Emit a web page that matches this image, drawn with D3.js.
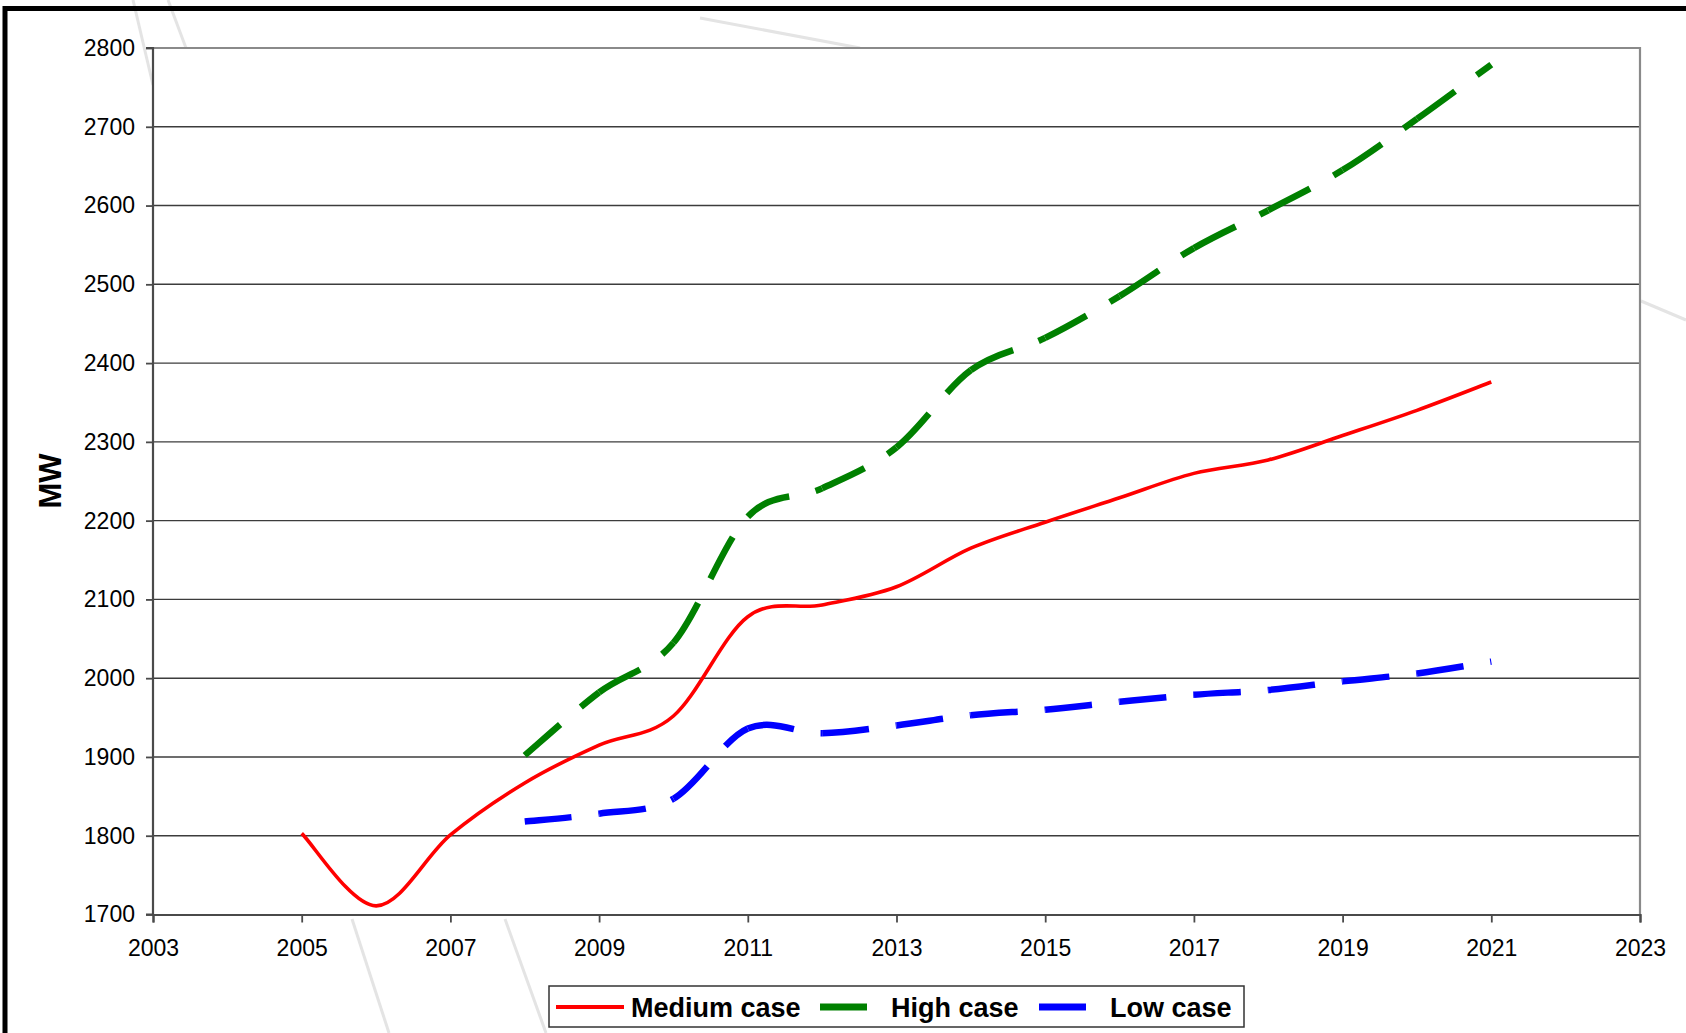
<!DOCTYPE html>
<html>
<head>
<meta charset="utf-8">
<script src="https://cdn.jsdelivr.net/npm/d3@7"></script>
<style>
  html, body { margin: 0; padding: 0; background: #fff; }
  svg { display: block; }
  text { font-family: "Liberation Sans", Arial, sans-serif; fill: #000; }
</style>
</head>
<body>
<svg id="chart" width="1686" height="1033"></svg>
<script>
// ---- data ----
const years = [2005, 2006, 2007, 2008, 2009, 2010, 2011, 2012, 2013, 2014, 2015, 2016, 2017, 2018, 2019, 2020, 2021];
const mediumCase = [1803, 1711, 1801, 1867, 1915, 1952, 2078, 2093, 2116, 2165, 2198, 2229, 2260, 2277, 2308, 2340, 2376];
const highYears = [2008, 2009, 2010, 2011, 2012, 2013, 2014, 2015, 2016, 2017, 2018, 2019, 2020, 2021];
const highCase = [1902, 1982, 2045, 2205, 2241, 2293, 2391, 2432, 2485, 2546, 2594, 2645, 2710, 2779];
const lowYears = [2008, 2009, 2010, 2011, 2012, 2013, 2014, 2015, 2016, 2017, 2018, 2019, 2020, 2021];
const lowCase = [1818, 1828, 1847, 1936, 1930, 1940, 1953, 1960, 1970, 1979, 1985, 1996, 2006, 2021];
const xTicks = [2003, 2005, 2007, 2009, 2011, 2013, 2015, 2017, 2019, 2021, 2023];
const yTicks = [1700, 1800, 1900, 2000, 2100, 2200, 2300, 2400, 2500, 2600, 2700, 2800];
const seriesNames = ["Medium case", "High case", "Low case"];
const yTitle = "MW";

const svg = d3.select("#chart");
const W = 1686, H = 1033;
const plot = { left: 153, right: 1640, top: 48, bottom: 914.5 };

const x = d3.scaleLinear().domain([2003, 2023]).range([plot.left, plot.right]);
const y = d3.scaleLinear().domain([1700, 2800]).range([plot.bottom, plot.top]);

// faint background streaks
const streaks = [
  [[133, 0], [153, 85]], [[168, 0], [186, 48]], [[700, 18], [860, 48]],
  [[352, 919], [389, 1033]], [[505, 919], [546, 1033]], [[1641, 301], [1686, 320]]
];
svg.append("g").selectAll("line").data(streaks).join("line")
  .attr("x1", d => d[0][0]).attr("y1", d => d[0][1])
  .attr("x2", d => d[1][0]).attr("y2", d => d[1][1])
  .attr("stroke", "#e4e4e4").attr("stroke-width", 3);

// outer frame (thick black, cut at right and bottom)
svg.append("path")
  .attr("d", `M5,${H + 10} L5,8.5 L${W + 10},8.5`)
  .attr("fill", "none").attr("stroke", "#000").attr("stroke-width", 5);

// plot area
svg.append("rect")
  .attr("x", plot.left).attr("y", plot.top)
  .attr("width", plot.right - plot.left).attr("height", plot.bottom - plot.top)
  .attr("fill", "#fff");

// gridlines
svg.append("g").selectAll("line").data(yTicks.filter(v => v !== 1700 && v !== 2800)).join("line")
  .attr("x1", plot.left).attr("x2", plot.right)
  .attr("y1", d => y(d)).attr("y2", d => y(d))
  .attr("stroke", "#3c3c3c").attr("stroke-width", 1.4);

// top & right border of plot
svg.append("path")
  .attr("d", `M${plot.left},${plot.top} L${plot.right},${plot.top} L${plot.right},${plot.bottom}`)
  .attr("fill", "none").attr("stroke", "#8a8a8a").attr("stroke-width", 2.2);

// axes
const yAxis = svg.append("g").attr("transform", `translate(${plot.left},0)`)
  .call(d3.axisLeft(y).tickValues(yTicks).tickSize(7).tickPadding(11).tickFormat(d3.format("d")));
const xAxis = svg.append("g").attr("transform", `translate(0,${plot.bottom})`)
  .call(d3.axisBottom(x).tickValues(xTicks).tickSize(8).tickPadding(13).tickFormat(d3.format("d")));
[yAxis, xAxis].forEach(a => {
  a.select(".domain").attr("stroke", "#4a4a4a").attr("stroke-width", 2.2);
  a.selectAll(".tick line").attr("stroke", "#4a4a4a").attr("stroke-width", 1.8);
  a.selectAll(".tick text").style("font-size", "23px").style("font-family", "'Liberation Sans', Arial, sans-serif").attr("fill", "#000");
});
yAxis.select(".domain").attr("d", `M-7,${plot.bottom}H0V${plot.top}H-7`);
xAxis.selectAll(".tick text").attr("dy", "0.9em");

// y title
svg.append("text")
  .attr("transform", `translate(61,481) rotate(-90)`)
  .attr("text-anchor", "middle")
  .style("font-size", "31px").style("font-weight", "bold")
  .text(yTitle);

// smoothed segments (Excel-style: dash pattern restarts at every data point)
function segments(xs, vs) {
  const pts = xs.map((yr, i) => [x(yr), y(vs[i])]);
  const out = [];
  for (let i = 0; i < pts.length - 1; i++) {
    const p0 = pts[Math.max(i - 1, 0)], p1 = pts[i], p2 = pts[i + 1], p3 = pts[Math.min(i + 2, pts.length - 1)];
    const c1 = [p1[0] + (p2[0] - p0[0]) / 6, p1[1] + (p2[1] - p0[1]) / 6];
    const c2 = [p2[0] - (p3[0] - p1[0]) / 6, p2[1] - (p3[1] - p1[1]) / 6];
    out.push({ p1, c1, c2, p2 });
  }
  return out;
}
function segPath(s, p) {
  p.bezierCurveTo(s.c1[0], s.c1[1], s.c2[0], s.c2[1], s.p2[0], s.p2[1]);
}

// medium (solid)
const medSegs = segments(years, mediumCase);
const mp = d3.path();
mp.moveTo(medSegs[0].p1[0], medSegs[0].p1[1]);
medSegs.forEach(s => segPath(s, mp));
svg.append("path").attr("d", mp.toString())
  .attr("fill", "none").attr("stroke", "#ff0000").attr("stroke-width", 3.6)
  .attr("stroke-linejoin", "round");

function dashedSeries(xs, vs, color, width) {
  const g = svg.append("g");
  segments(xs, vs).forEach(s => {
    const p = d3.path();
    p.moveTo(s.p1[0], s.p1[1]);
    segPath(s, p);
    g.append("path").attr("d", p.toString())
      .attr("fill", "none").attr("stroke", color).attr("stroke-width", width)
      .attr("stroke-dasharray", "47,27").attr("stroke-linecap", "butt");
  });
}
dashedSeries(highYears, highCase, "#008000", 6.5);
dashedSeries(lowYears, lowCase, "#0000ff", 6.5);

// legend
const lg = svg.append("g");
lg.append("rect").attr("x", 549).attr("y", 986).attr("width", 695).attr("height", 41)
  .attr("fill", "#fff").attr("stroke", "#333").attr("stroke-width", 1.5);
const legendItems = [
  { name: seriesNames[0], color: "#ff0000", w: 4, dash: null, x1: 556, x2: 624, tx: 631 },
  { name: seriesNames[1], color: "#008000", w: 7, dash: "47,27", x1: 820, x2: 867, tx: 891 },
  { name: seriesNames[2], color: "#0000ff", w: 7, dash: "47,27", x1: 1039, x2: 1086, tx: 1110 }
];
legendItems.forEach(it => {
  lg.append("line").attr("x1", it.x1).attr("x2", it.x2).attr("y1", 1007).attr("y2", 1007)
    .attr("stroke", it.color).attr("stroke-width", it.w)
    .attr("stroke-dasharray", it.dash);
  lg.append("text").attr("x", it.tx).attr("y", 1017)
    .style("font-size", "27px").style("font-weight", "bold").text(it.name);
});
</script>
</body>
</html>
